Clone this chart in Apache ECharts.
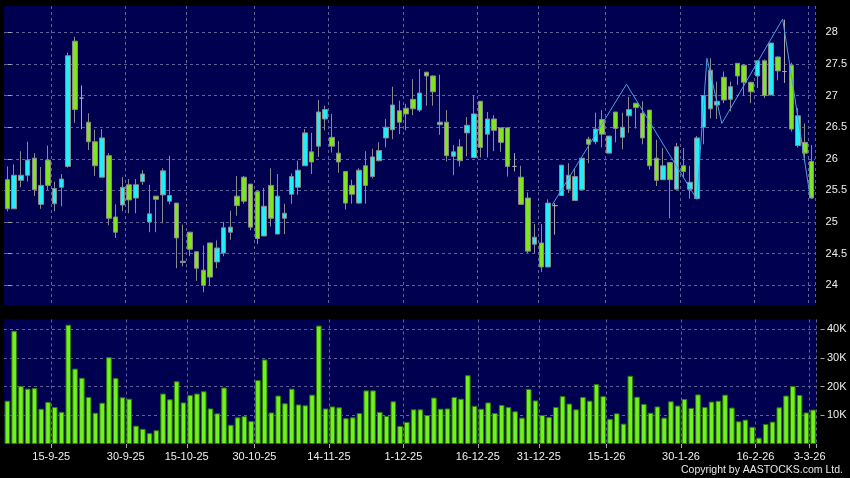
<!DOCTYPE html>
<html><head><meta charset="utf-8">
<script src="https://cdn.jsdelivr.net/npm/echarts@6/dist/echarts.min.js"></script>
<style>html,body{margin:0;padding:0;background:#000;}#c{width:850px;height:478px;}</style>
</head><body><div id="c"></div>
<script>
// date labels shown on the time axis (category index -> label)
const tickIndex = [7, 18, 27, 37, 48, 59, 70, 79, 89, 100, 111, 119];
const tickLabels = ['15-9-25','30-9-25','15-10-25','30-10-25','14-11-25','1-12-25','16-12-25','31-12-25','15-1-26','30-1-26','16-2-26','3-3-26'];

const opens = [25.67,25.21,25.66,25.74,26.01,25.28,25.98,25.29,25.55,25.88,
27.86,26.96,26.58,26.27,25.71,26.05,25.08,25.27,25.59,25.38,
25.64,25.00,25.41,25.43,25.33,25.30,24.36,24.84,24.53,24.24,
24.67,24.37,24.51,24.84,25.41,25.71,25.60,25.48,24.78,25.58,
24.81,25.06,25.44,25.55,25.89,26.11,26.20,26.63,26.34,26.09,
25.80,25.58,25.30,25.89,25.72,25.97,26.33,26.46,26.76,26.80,
26.94,26.77,27.37,27.31,26.54,26.58,26.04,26.19,26.41,26.02,
26.91,26.39,26.63,26.49,26.49,25.88,25.71,25.38,24.65,24.67,
24.29,25.26,25.42,25.52,25.34,25.51,26.31,26.27,26.62,26.09,
26.74,26.34,26.68,26.88,26.72,26.77,26.01,25.67,25.94,25.52,
25.89,25.52,25.37,26.50,26.79,26.85,27.29,26.94,27.51,27.48,
27.21,27.31,27.55,27.01,27.61,27.38,27.48,26.21,26.26,25.96];
const closes = [25.21,25.74,25.74,25.98,25.51,25.58,25.58,25.53,25.68,27.63,
26.78,26.96,26.27,25.89,26.33,25.06,24.84,25.55,25.35,25.59,
25.76,25.13,25.36,25.81,25.42,24.75,24.38,24.57,24.27,24.00,
24.13,24.59,24.91,24.92,25.26,25.33,24.92,24.74,25.25,25.06,
25.41,25.14,25.72,25.82,26.41,25.95,26.74,26.78,26.20,25.95,
25.30,25.44,25.82,25.58,26.03,26.13,26.50,26.85,26.58,26.71,
26.79,27.04,27.31,27.06,26.58,26.05,26.11,25.97,26.53,26.71,
26.18,26.63,26.45,26.26,25.88,25.88,25.28,24.54,24.76,24.29,
25.30,25.26,25.90,25.74,25.72,26.01,26.23,26.47,26.39,26.36,
26.48,26.50,26.78,26.81,26.33,25.89,25.66,25.89,25.67,26.19,
25.80,25.63,26.33,27.00,27.40,26.91,26.93,27.14,27.31,27.21,
27.06,27.55,27.00,27.83,27.39,27.38,26.47,26.68,26.09,25.38];
const lows = [25.17,25.21,25.55,25.64,25.41,25.21,25.51,25.17,25.25,25.86,
26.57,26.47,26.14,25.73,25.71,24.95,24.75,25.17,25.14,25.14,
25.59,24.84,24.84,24.98,25.28,24.27,24.30,24.46,24.07,23.89,
24.00,24.27,24.46,24.72,25.10,25.29,24.87,24.65,24.78,24.93,
24.81,24.81,25.29,25.43,25.89,25.76,26.03,26.45,26.10,25.78,
25.20,25.29,25.29,25.29,25.69,25.96,26.18,26.31,26.39,26.45,
26.69,26.74,26.84,26.84,26.38,25.96,25.74,25.88,26.04,26.02,
26.02,26.02,26.12,26.11,25.72,25.80,25.28,24.51,24.51,24.21,
24.29,24.80,25.42,25.46,25.34,25.51,25.93,26.23,26.18,26.09,
26.26,26.15,26.41,26.48,26.23,25.83,25.57,25.67,25.06,25.52,
25.71,25.37,25.37,26.23,26.64,26.63,26.88,26.75,27.17,27.00,
26.88,27.12,26.96,27.00,27.24,27.20,26.43,26.18,26.01,25.37];
const highs = [25.88,25.91,26.12,26.27,26.09,25.87,26.21,25.64,25.76,27.68,
27.93,27.16,26.72,26.46,26.47,26.09,25.28,25.71,25.68,25.68,
25.82,25.59,25.41,25.85,26.05,25.30,24.96,24.84,24.54,24.63,
24.67,24.71,25.00,25.18,25.73,25.73,25.60,25.51,25.54,25.85,
25.76,25.29,25.77,25.97,26.47,26.41,26.93,26.84,26.71,26.28,
25.80,25.67,25.85,26.12,26.16,26.26,26.63,27.14,26.92,26.87,
27.26,27.42,27.37,27.32,27.33,26.77,26.22,26.31,26.66,27.00,
26.91,26.74,26.69,26.49,26.49,26.09,25.89,25.47,24.97,24.97,
25.36,25.30,25.90,25.93,25.85,26.01,26.35,26.73,26.77,26.36,
26.74,26.73,26.98,26.88,26.91,26.77,26.30,26.17,25.94,26.25,
26.17,25.89,26.36,27.00,27.59,27.22,27.38,27.22,27.51,27.50,
27.21,27.55,27.57,27.83,27.62,28.20,27.52,26.80,26.56,26.22];
// volume, thousands of shares
const volumesK = [15.1,39.5,20.2,19.3,19.5,12.3,14.7,12.9,11.2,41.6,
26.3,23.1,16.4,10.9,14.4,30.3,23.0,16.3,15.8,6.4,
5.3,3.8,4.8,17.6,15.6,21.9,14.5,17.1,17.6,18.4,
12.4,10.7,19.7,6.7,9.3,9.7,8.0,22.3,29.5,11.0,
16.9,14.2,19.3,13.8,13.5,17.2,41.3,12.4,13.1,12.8,
9.0,9.3,10.8,18.7,18.7,11.2,9.8,14.9,6.3,7.7,
12.1,12.1,10.1,16.2,12.3,12.4,16.4,15.8,24.0,13.3,
12.3,14.5,10.8,13.6,12.9,11.4,9.2,19.2,15.2,10.1,
9.4,12.9,16.7,14.1,12.1,16.4,15.1,20.9,16.7,8.8,
10.7,7.1,23.8,16.5,14.0,10.9,13.1,9.2,14.9,13.4,
15.7,12.6,17.3,12.9,14.8,15.1,17.2,12.7,7.9,8.5,
6.0,2.2,7.0,7.8,12.8,16.9,20.2,17.1,11.0,12.0];
// zigzag overlay: position in bar units, price
const zigzagX = [80.6, 91.6, 102.0, 103.5, 105.7, 114.7, 118.8];
const zigzagY = [25.27, 27.18, 25.36, 27.59, 26.56, 28.21, 25.38];
const priceTicks = [24, 24.5, 25, 25.5, 26, 26.5, 27, 27.5, 28];
const volumeTicks = [10, 20, 30, 40];

const categories = opens.map((_, i) => {
  const k = tickIndex.indexOf(i);
  return k >= 0 ? tickLabels[k] : String(i);
});
const candleData = opens.map((o, i) => [o, closes[i], lows[i], highs[i]]);
const zigzagData = zigzagX.map((x, i) => [x, zigzagY[i]]);
const isTick = (idx) => tickIndex.indexOf(idx) >= 0;

const FONT = '"Liberation Sans", Arial, sans-serif';
const gridLine = { show: true, lineStyle: { color: '#62629a', type: [3, 3], width: 1 } };
const labelColor = '#eeeeee';

const chart = echarts.init(document.getElementById('c'), null, { renderer: 'canvas' });
chart.setOption({
  backgroundColor: '#000000',
  animation: false,
  grid: [
    { left: 4, top: 6, width: 812.5, height: 299, show: true, backgroundColor: '#000050', borderWidth: 0 },
    { left: 4, top: 319.5, width: 812.5, height: 124.5, show: true, backgroundColor: '#000050', borderWidth: 0 }
  ],
  xAxis: [
    { type: 'category', gridIndex: 0, data: categories, boundaryGap: true,
      axisLine: { show: false }, axisTick: { show: false }, axisLabel: { show: false },
      splitLine: Object.assign({ interval: (i) => isTick(i) }, gridLine) },
    { type: 'category', gridIndex: 1, data: categories, boundaryGap: true,
      axisLine: { show: false },
      axisTick: { show: true, interval: (i) => isTick(i), length: 4, lineStyle: { color: '#aaaaaa' } },
      axisLabel: { show: true, interval: (i) => isTick(i), color: labelColor, fontSize: 11, fontFamily: FONT, margin: 7, padding: [0, 7, 0, 0] },
      splitLine: Object.assign({ interval: (i) => isTick(i) }, gridLine) },
    { type: 'value', gridIndex: 0, min: -0.5, max: 119.5, show: false }
  ],
  yAxis: [
    { type: 'value', gridIndex: 0, position: 'right', offset: 4, min: 23.689, max: 28.416, scale: true,
      axisLine: { show: false },
      axisTick: { show: true, length: 4, customValues: priceTicks, lineStyle: { color: '#aaaaaa' } },
      axisLabel: { customValues: priceTicks, color: labelColor, fontSize: 11, fontFamily: FONT, margin: 6.5 },
      splitLine: gridLine },
    { type: 'value', gridIndex: 1, position: 'right', offset: 4, min: 0, max: 43.43,
      axisLine: { show: false },
      axisTick: { show: true, length: 4, customValues: volumeTicks, lineStyle: { color: '#aaaaaa' } },
      axisLabel: { customValues: volumeTicks, color: labelColor, fontSize: 11, fontFamily: FONT, margin: 6.5, formatter: (v) => v + 'K' },
      splitLine: gridLine }
  ],
  series: [
    { type: 'candlestick', xAxisIndex: 0, yAxisIndex: 0, data: candleData, barWidth: 5,
      itemStyle: { color: '#22eef8', color0: '#80e41e', borderColor: '#8a8a8a', borderColor0: '#8a8a8a', borderColorDoji: '#a8a8a8', borderWidth: 1 } },
    { type: 'line', xAxisIndex: 2, yAxisIndex: 0, data: zigzagData, symbol: 'none',
      lineStyle: { color: '#4a9fe0', width: 1 }, z: 5 },
    { type: 'bar', xAxisIndex: 1, yAxisIndex: 1, data: volumesK, barWidth: 5.6,
      itemStyle: { color: '#72f21c', borderColor: '#2f7a0a', borderWidth: 1 } }
  ],
  graphic: [
    { type: 'text', right: 7, top: 465, style: { text: 'Copyright by AASTOCKS.com Ltd.', fill: '#e8e8e8', font: '10.5px ' + FONT } }
  ]
});
</script>
</body></html>
